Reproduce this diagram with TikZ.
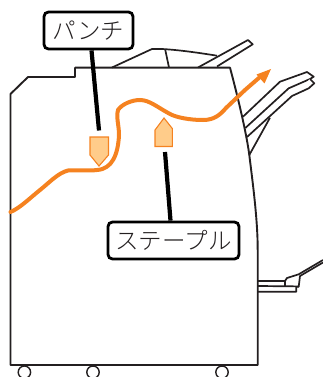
\documentclass[tikz,border=0pt]{standalone}
\usepackage{fontspec}
\newfontfamily\jpfont{Noto Sans CJK JP Light}
\usetikzlibrary{arrows.meta}
\definecolor{flow}{HTML}{F58220}
\definecolor{mark}{HTML}{FFCC8A}
\definecolor{ink}{HTML}{231F20}
\tikzset{
  outline/.style={draw=ink,line width=1.7pt,line join=round,fill=white},
  callout/.style={draw=black,line width=2.8pt,rounded corners=4.5pt,fill=white,inner sep=0pt,font=\jpfont\fontsize{23.5}{23.5}\selectfont,text=ink,anchor=center},
  leader/.style={draw=black,line width=4.2pt},
  marker/.style={draw=flow,line width=1.1pt,fill=mark,line join=miter},
  path line/.style={draw=flow,line width=4pt,line cap=round}
}
\begin{document}
\begin{tikzpicture}[x=1pt,y=-1pt]
\path[use as bounding box] (0,0) rectangle (323,377);
\clip (0,0) rectangle (323,377);
% wheels
\foreach \n/\x in {wa/24.4,wb/93,wc/222}{
  \draw[ink,line width=1.4pt,fill=white] (\x,372.2) circle (6.2);
}
% top tray
\draw[outline] (112,67.5) -- (152,49) -- (162,49) .. controls (180,50) and (200,53) .. (217,55.7);
\draw[outline] (165.3,50) -- (169,67.5);
\draw[outline] (198,67.5) -- (248,40) -- (252.7,44.3) -- (217,66.5);
% right tray
\draw[outline] (243,116.7) -- (280,81.7) -- (307,72) -- (313.7,76.7) -- (310,79) -- (288.7,88.3) -- (245.3,128);
\draw[outline] (310,79) -- (314.3,83.3) -- (308.7,88.3) -- (292,96) -- (247,137);
\draw[outline] (270,117.7) -- (249.3,155);
% bottom tray
\draw[outline,fill=none] (258,281) -- (285,281) -- (287,278) -- (298.7,274.3) -- (323,260);
\draw[outline,fill=none] (323,262.5) -- (300,276) -- (298.7,286.7) -- (296.3,287) -- (296.3,291.7) -- (258,291.7);
\draw[outline,fill=none] (258,286) -- (298.7,286.4);
\draw[outline,fill=none] (285,281) -- (285,286);
% body
\draw[outline,fill=none,line width=1.9pt] (10.5,365) -- (10.5,94) -- (28,77) -- (75,77) -- (75,67.7) -- (230,67.7)
  .. controls (236,90) and (246,130) .. (249.3,155)
  .. controls (253,185) and (257.7,220) .. (257.7,250) -- (257.7,365) -- cycle;
% markers
\draw[marker] (90,137) -- (108.5,137) -- (108.5,155) -- (99,166) -- (90,155) -- cycle;
\draw[marker] (164,118) -- (172.3,128.5) -- (172.3,146.5) -- (155,146.5) -- (155,130) -- cycle;
% flow
\draw[path line] (10.5,212) .. controls (20,208) and (30,198) .. (40,190)
  .. controls (50,182) and (58,173) .. (68,170.5)
  .. controls (78,170) and (90,171) .. (97,170)
  .. controls (112,169) and (118,155) .. (119,135)
  .. controls (119,125) and (116,118) .. (118,110)
  .. controls (122,104) and (132,100) .. (140,100)
  .. controls (150,100) and (158,108) .. (172,115)
  .. controls (182,119) and (195,120) .. (203,120)
  .. controls (214,120) and (220,115) .. (226,108)
  -- (245,90) -- (260,77);
\fill[flow] (271,69) -- (256.5,74.5) -- (264.5,83.5) -- cycle;
% callouts
\node[callout,minimum width=89pt,minimum height=37pt] (pl) at (88.5,30.5) {パンチ};
\node[callout,minimum width=131pt,minimum height=37pt] (sl) at (173.5,240.5) {ステープル};
\coordinate (pe) at (99,130.5);
\coordinate (se) at (165,152);
\draw[leader] ([xshift=3pt]pl.south) -- (pe);
\draw[leader] ([xshift=-3pt]sl.north) -- (se);
\end{tikzpicture}
\end{document}
